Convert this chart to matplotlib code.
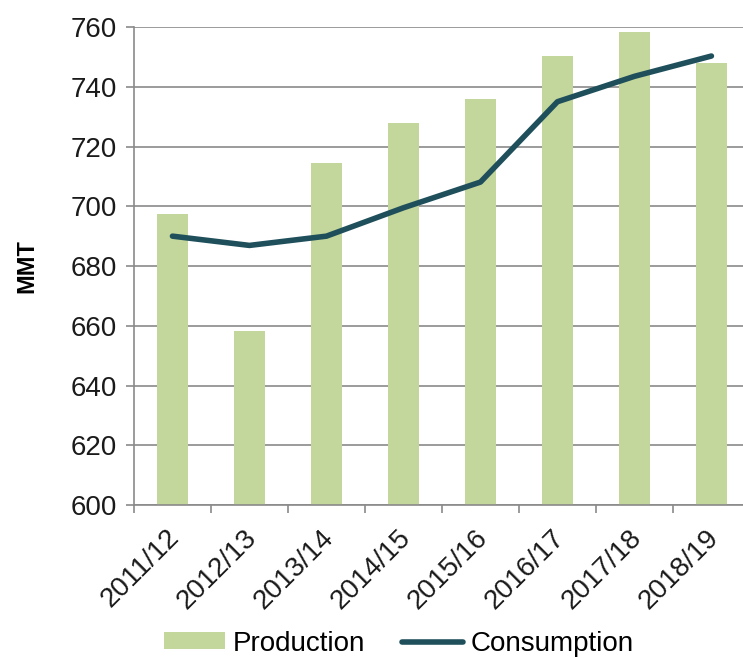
import numpy as np
import matplotlib.pyplot as plt
from matplotlib.ticker import FixedLocator
from matplotlib.transforms import ScaledTranslation

plt.rcParams['font.family'] = ['Liberation Sans', 'DejaVu Sans']

# Marketing years and supply/demand figures (million metric tons)
years = ['2011/12', '2012/13', '2013/14', '2014/15',
         '2015/16', '2016/17', '2017/18', '2018/19']
production = [697.3, 658.3, 714.6, 728.0, 735.8, 750.4, 758.2, 747.8]
consumption = [690.0, 686.9, 690.0, 699.5, 708.1, 735.0, 743.5, 750.3]

bar_color = '#c3d69b'
line_color = '#1e4f5b'
grid_color = '#8a8a8a'

fig = plt.figure(figsize=(7.43, 6.58), dpi=100)
ax = fig.add_axes([0.1803, 0.2325, 0.829, 0.7264])

x = np.arange(len(years))
bars = ax.bar(x, production, width=0.4, color=bar_color, label='Production',
              zorder=2)
line, = ax.plot(x, consumption, color=line_color, linewidth=4.0,
                solid_capstyle='round', label='Consumption', zorder=3)

# Axis limits and gridlines
ax.set_ylim(600, 760)
ax.set_xlim(-0.5, len(years) - 0.5)
ax.set_yticks(np.arange(600, 761, 20))
ax.yaxis.grid(True, color=grid_color, linewidth=1.2, zorder=0)
ax.set_axisbelow(True)

for side in ['top', 'right']:
    ax.spines[side].set_visible(False)
for side in ['left', 'bottom']:
    ax.spines[side].set_color(grid_color)
    ax.spines[side].set_linewidth(1.2)

ax.tick_params(axis='y', length=6, width=1.2, color=grid_color,
               labelsize=20, pad=6, labelcolor='#1a1a1a')

# Category labels at the centres, tick marks on the boundaries
ax.set_xticks(x)
ax.set_xticklabels(years, rotation=45, ha='right', rotation_mode='anchor',
                   fontsize=20, color='#1a1a1a')
ax.tick_params(axis='x', which='major', length=0, pad=14)
ax.xaxis.set_minor_locator(FixedLocator(np.arange(-0.5, len(years), 1.0)))
ax.tick_params(axis='x', which='minor', length=6, width=1.2, color=grid_color)
shift = ScaledTranslation(-6 / 100, 0, fig.dpi_scale_trans)
for lbl in ax.get_xticklabels():
    lbl.set_transform(lbl.get_transform() + shift)

ax.set_ylabel('MMT', fontsize=17, fontweight='bold')
ax.yaxis.set_label_coords(-0.155, 0.5)

fig.legend(handles=[bars, line], labels=['Production', 'Consumption'],
           loc='lower center', bbox_to_anchor=(0.537, -0.036), ncol=2,
           frameon=False, fontsize=20, handlelength=2.2, handleheight=0.55,
           handletextpad=0.3, columnspacing=1.3)

fig.savefig('out.png', dpi=100)
